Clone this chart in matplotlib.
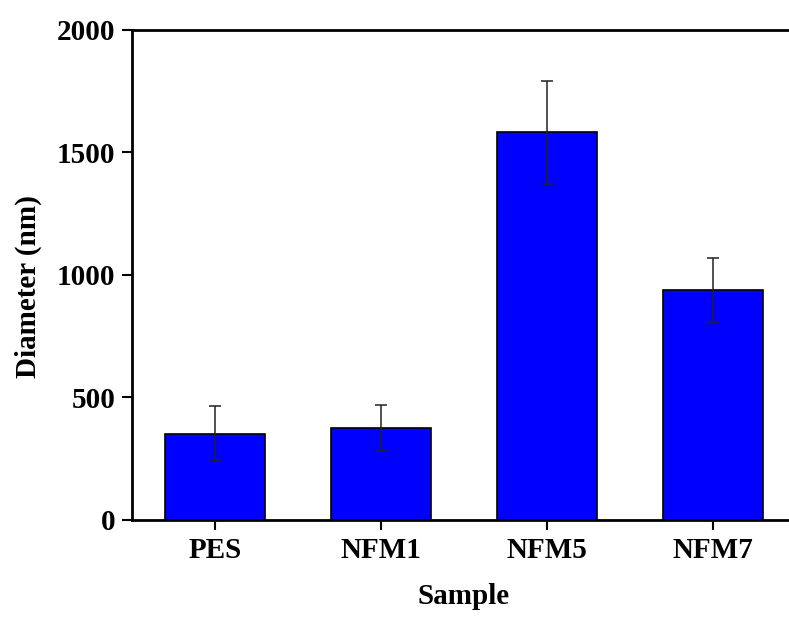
import matplotlib.pyplot as plt

samples = ['PES', 'NFM1', 'NFM5', 'NFM7']
diameter = [352, 375, 1582, 938]
err = [112, 94, 210, 130]

plt.rcParams['font.family'] = 'Liberation Serif'
plt.rcParams['font.weight'] = 'bold'

fig = plt.figure(figsize=(7.89, 6.17), dpi=100)
# right edge of the frame falls just outside the picture
ax = fig.add_axes([132 / 789, 1 - 520 / 617, (796 - 132) / 789, (520 - 29.5) / 617])

x = range(len(samples))
ax.bar(x, diameter, width=0.6, color='#0000ff', edgecolor='black', linewidth=1.2,
       yerr=err, error_kw=dict(ecolor='#222222', elinewidth=1.1, capsize=4, capthick=1.1))

ax.set_xlim(-0.5, 3.5)
ax.set_ylim(0, 2000)
ax.set_xticks(list(x))
ax.set_xticklabels(samples)
ax.set_yticks([0, 500, 1000, 1500, 2000])

for s in ax.spines.values():
    s.set_linewidth(2)
ax.tick_params(axis='both', direction='out', length=7, width=1.5, labelsize=21, pad=5)

ax.set_xlabel('Sample', fontsize=21, fontweight='bold', labelpad=14)
ax.set_ylabel('Diameter (nm)', fontsize=21, fontweight='bold')
ax.yaxis.set_label_coords(-0.135, 0.475)

fig.savefig('out.png', dpi=100)
